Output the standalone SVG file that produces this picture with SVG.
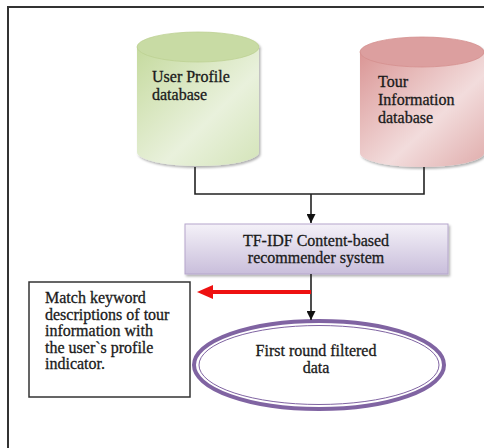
<svg xmlns="http://www.w3.org/2000/svg" width="484" height="448" viewBox="0 0 484 448">
  <defs>
    <linearGradient id="greenBody" x1="0" y1="0" x2="1" y2="1">
      <stop offset="0" stop-color="#c5da9e"/>
      <stop offset="0.6" stop-color="#e9f1dc"/>
      <stop offset="1" stop-color="#d4e4b9"/>
    </linearGradient>
    <linearGradient id="redBody" x1="0" y1="0" x2="1" y2="1">
      <stop offset="0" stop-color="#da9695"/>
      <stop offset="0.6" stop-color="#f2dcdc"/>
      <stop offset="1" stop-color="#e0adac"/>
    </linearGradient>
    <linearGradient id="boxFill" x1="0" y1="0" x2="0" y2="1">
      <stop offset="0" stop-color="#f4f1f8"/>
      <stop offset="1" stop-color="#c9bedb"/>
    </linearGradient>
    <marker id="arrow" viewBox="0 0 10 10" refX="10" refY="5" markerWidth="9" markerHeight="9" markerUnits="userSpaceOnUse" orient="auto">
      <path d="M0,0 L10,5 L0,10 z" fill="#111"/>
    </marker>
    <filter id="shadow" x="-10%" y="-10%" width="130%" height="130%">
      <feDropShadow dx="1.5" dy="2" stdDeviation="1.2" flood-color="#000" flood-opacity="0.3"/>
    </filter>
  </defs>
  <style>
    .label { font-family: "Liberation Serif", "Times New Roman", serif; font-size: 16px; fill: #1a1a1a; stroke: #1a1a1a; stroke-width: 0.3; }
    .conn { fill: none; stroke: #222; stroke-width: 1.6; }
  </style>

  <rect width="484" height="448" fill="#ffffff"/>
  <!-- outer frame, open to the right and bottom -->
  <rect x="8" y="7" width="490" height="460" fill="none" stroke="#333" stroke-width="2"/>

  <g id="user-profile-db" filter="url(#shadow)">
    <path d="M137,47 L137,152 A61,14 0 0 0 259,152 L259,47 Z" fill="url(#greenBody)"/>
    <ellipse cx="198" cy="47" rx="61" ry="15" fill="#c8dba4" stroke="#bcd092" stroke-width="0.8"/>
  </g>
  <text class="label" x="152" y="82">User Profile</text>
  <text class="label" x="152" y="100">database</text>

  <g id="tour-info-db" filter="url(#shadow)">
    <path d="M360,52 L360,153 A62,14 0 0 0 484,153 L484,52 Z" fill="url(#redBody)"/>
    <ellipse cx="422" cy="52" rx="62" ry="15" fill="#dc9f9f" stroke="#d48f8e" stroke-width="0.8"/>
  </g>
  <text class="label" x="378" y="87">Tour</text>
  <text class="label" x="378" y="105">Information</text>
  <text class="label" x="378" y="123">database</text>

  <g id="recommender" filter="url(#shadow)">
    <rect x="185" y="224" width="263" height="50" fill="url(#boxFill)" stroke="#b5a6cb" stroke-width="1"/>
  </g>
  <text class="label" x="316" y="246" text-anchor="middle">TF-IDF Content-based</text>
  <text class="label" x="316" y="263" text-anchor="middle">recommender system</text>

  <g id="match-note">
    <rect x="29" y="282" width="161" height="115" fill="#fff" stroke="#333" stroke-width="1.5"/>
    <text class="label" x="45" y="303">Match keyword</text>
    <text class="label" x="45" y="320">descriptions of tour</text>
    <text class="label" x="45" y="336">information with</text>
    <text class="label" x="45" y="353">the user`s profile</text>
    <text class="label" x="45" y="369">indicator.</text>
  </g>

  <g id="filtered-data">
    <ellipse cx="319" cy="365" rx="125" ry="44" fill="#fff" stroke="#8064a2" stroke-width="4"/>
    <ellipse cx="319" cy="365" rx="120" ry="39.5" fill="none" stroke="#8064a2" stroke-width="1"/>
    <text class="label" x="316" y="356" text-anchor="middle">First round filtered</text>
    <text class="label" x="316" y="373" text-anchor="middle">data</text>
  </g>

  <g id="connectors">
    <path class="conn" d="M195,167 V194 H424 V167"/>
    <path class="conn" d="M311,194 V223" marker-end="url(#arrow)"/>
    <path class="conn" d="M311,274 V320" marker-end="url(#arrow)"/>
    <path d="M311,292 H210" fill="none" stroke="#ee1111" stroke-width="4"/>
    <polygon points="197,292 213,285 213,299" fill="#ee1111"/>
  </g>
</svg>
